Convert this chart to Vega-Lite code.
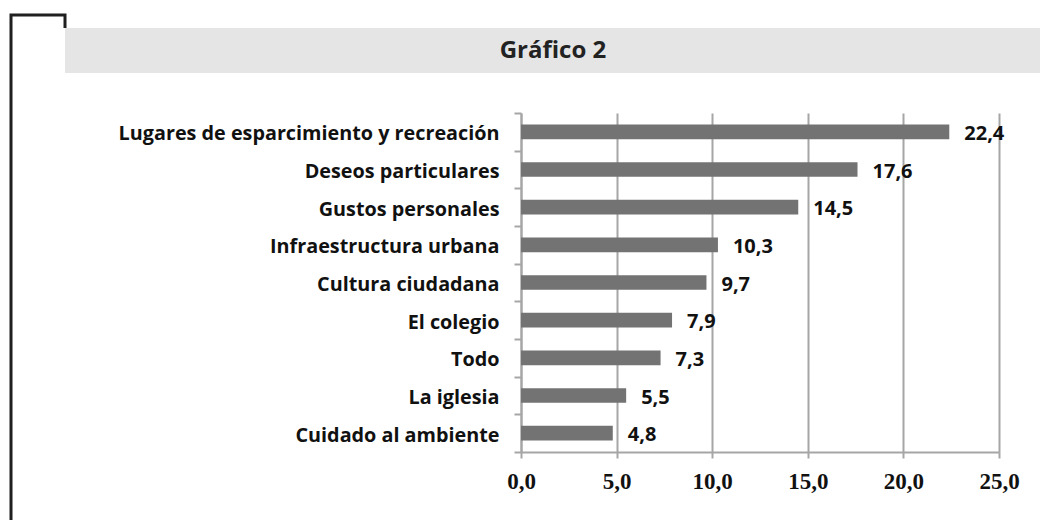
{
  "$schema": "https://vega.github.io/schema/vega-lite/v6.json",
  "background": "white",
  "padding": {"left": 9, "top": 13, "right": 0, "bottom": 0},
  "config": {
    "view": {"stroke": null},
    "locale": {"number": {"decimal": ",", "thousands": ".", "grouping": [3], "currency": ["", " €"]}}
  },
  "bounds": "flush",
  "spacing": 0,
  "hconcat": [
    {
      "width": 54,
      "height": 520,
      "data": {"values": []},
      "mark": "point",
      "view": {"stroke": "#1f1f1f", "strokeWidth": 3, "strokeDash": [67, 561, 520], "fill": null}
    },
    {
      "bounds": "flush",
      "spacing": 0,
      "vconcat": [
        {
          "width": 10,
          "height": 12.5,
          "data": {"values": []},
          "mark": "point"
        },
        {
          "width": 976,
          "height": 45,
          "data": {"values": [{"titulo": "Gráfico 2"}]},
          "mark": {"type": "text", "font": "Open Sans", "fontWeight": "bold", "fontSize": 24, "color": "#222222", "dy": 0},
          "encoding": {"text": {"field": "titulo", "type": "nominal"}},
          "view": {"fill": "#e5e5e5", "stroke": null}
        },
        {
          "width": 10,
          "height": 40,
          "data": {"values": []},
          "mark": "point"
        },
        {
          "bounds": "flush",
          "spacing": 0,
          "hconcat": [
            {
              "width": 455.5,
              "height": 10,
              "data": {"values": []},
              "mark": "point"
            },
            {
              "width": 478,
              "height": 339,
              "data": {
                "values": [
                  {"categoria": "Lugares de esparcimiento y recreación", "valor": 22.4},
                  {"categoria": "Deseos particulares", "valor": 17.6},
                  {"categoria": "Gustos personales", "valor": 14.5},
                  {"categoria": "Infraestructura urbana", "valor": 10.3},
                  {"categoria": "Cultura ciudadana", "valor": 9.7},
                  {"categoria": "El colegio", "valor": 7.9},
                  {"categoria": "Todo", "valor": 7.3},
                  {"categoria": "La iglesia", "valor": 5.5},
                  {"categoria": "Cuidado al ambiente", "valor": 4.8}
                ]
              },
              "encoding": {
                "y": {
                  "field": "categoria",
                  "type": "nominal",
                  "sort": null,
                  "scale": {"paddingInner": 0, "paddingOuter": 0},
                  "axis": {
                    "title": null,
                    "domainColor": "#a6a6a6",
                    "domainWidth": 2,
                    "tickColor": "#a6a6a6",
                    "tickWidth": 2,
                    "tickSize": 7,
                    "tickBand": "extent",
                    "labelFont": "Open Sans",
                    "labelFontWeight": "bold",
                    "labelFontSize": 19.8,
                    "labelColor": "#111111",
                    "labelPadding": 15,
                    "labelLimit": 600,
                    "labelOffset": 2
                  }
                },
                "x": {
                  "field": "valor",
                  "type": "quantitative",
                  "scale": {"domain": [0, 25], "nice": false},
                  "axis": {
                    "title": null,
                    "values": [0, 5, 10, 15, 20, 25],
                    "format": ".1f",
                    "grid": true,
                    "gridColor": "#a6a6a6",
                    "gridWidth": 2,
                    "domainColor": "#a6a6a6",
                    "domainWidth": 2,
                    "tickColor": "#a6a6a6",
                    "tickWidth": 2,
                    "tickSize": 6,
                    "labelFont": "Liberation Serif",
                    "labelFontWeight": "bold",
                    "labelFontSize": 23,
                    "labelColor": "#111111",
                    "labelPadding": 12,
                    "labelFlush": false,
                    "labelOverlap": false
                  }
                }
              },
              "layer": [
                {"mark": {"type": "bar", "color": "#737373", "height": {"band": 0.39}}},
                {
                  "mark": {"type": "text", "align": "left", "baseline": "middle", "dx": 15, "dy": 2, "font": "Open Sans", "fontWeight": "bold", "fontSize": 20, "color": "#111111"},
                  "encoding": {"text": {"field": "valor", "type": "quantitative", "format": ".1f"}}
                }
              ]
            }
          ]
        }
      ]
    }
  ]
}
